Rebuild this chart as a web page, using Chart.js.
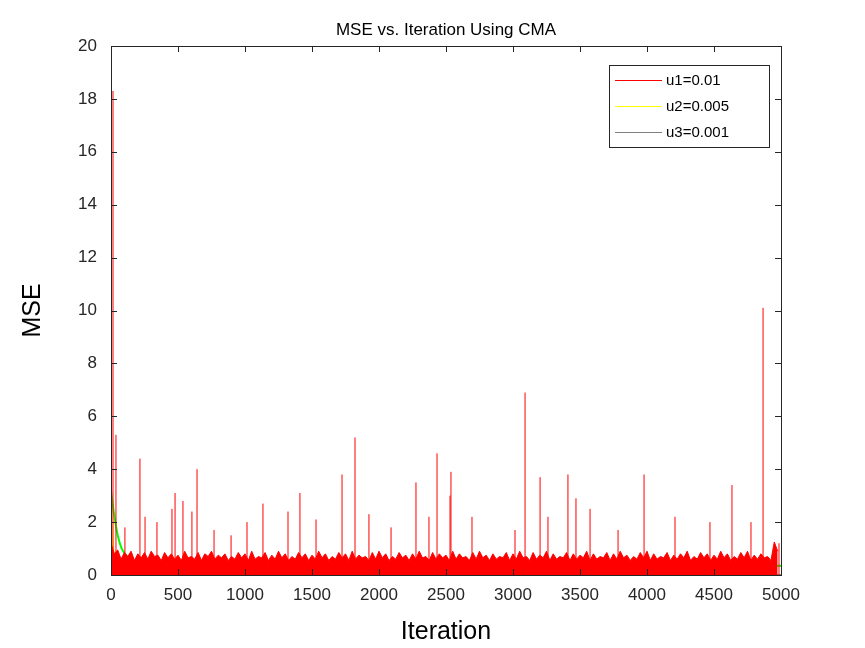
<!DOCTYPE html>
<html><head><meta charset="utf-8">
<script src="https://cdn.jsdelivr.net/npm/chart.js@4"></script>
<style>html,body{margin:0;padding:0;background:#fff}#c{display:block}</style>
</head><body>
<div style="width:865px;height:648px"><canvas id="c" width="865" height="648"></canvas></div>
<script>
const chartTitle = "MSE vs. Iteration Using CMA";
const xLabel = "Iteration";
const yLabel = "MSE";
const seriesNames = ["u1=0.01", "u2=0.005", "u3=0.001"];
const xTicks = [0,500,1000,1500,2000,2500,3000,3500,4000,4500,5000];
const yTicks = [0,2,4,6,8,10,12,14,16,18,20];

// u1 band top (dense noise envelope), one value every 25 iterations (0..4975)
const u1BaseStep = 25;
const u1Base = [
 1.2,0.8,0.95,0.6,0.85,0.7,0.9,0.55,0.8,0.65, 0.85,0.6,0.9,0.7,0.75,0.55,0.85,0.65,0.8,0.6,
 0.75,0.55,0.9,0.65,0.7,0.6,0.85,0.55,0.8,0.7, 0.9,0.6,0.75,0.65,0.8,0.55,0.7,0.6,0.85,0.65,
 0.8,0.55,0.9,0.6,0.7,0.65,0.85,0.55,0.75,0.6, 0.9,0.65,0.8,0.55,0.7,0.6,0.85,0.65,0.8,0.55,
 0.75,0.6,0.9,0.65,0.8,0.55,0.7,0.6,0.85,0.65, 0.8,0.55,0.9,0.6,0.75,0.65,0.7,0.55,0.85,0.6,
 0.9,0.65,0.8,0.55,0.7,0.6,0.85,0.65,0.75,0.55, 0.8,0.6,0.9,0.65,0.7,0.55,0.85,0.6,0.8,0.65,
 0.75,0.55,0.9,0.6,0.8,0.65,0.7,0.55,0.85,0.6, 0.9,0.65,0.75,0.55,0.8,0.6,0.7,0.65,0.85,0.55,
 0.8,0.6,0.9,0.65,0.7,0.55,0.85,0.6,0.75,0.65, 0.9,0.55,0.8,0.6,0.7,0.65,0.85,0.55,0.8,0.6,
 0.75,0.65,0.9,0.55,0.8,0.6,0.7,0.65,0.85,0.55, 0.8,0.6,0.9,0.65,0.75,0.55,0.7,0.6,0.85,0.65,
 0.9,0.55,0.8,0.6,0.7,0.65,0.85,0.55,0.75,0.6, 0.8,0.65,0.9,0.55,0.7,0.6,0.85,0.65,0.8,0.55,
 0.75,0.6,0.9,0.65,0.8,0.55,0.7,0.6,0.85,0.65, 0.9,0.55,0.75,0.6,0.8,0.65,0.7,0.55,1.25,0.9
];
// u1 spikes
const u1SpikeIter = [15,37,104,216,254,343,455,478,537,604,642,769,896,1015,1134,1321,1410,1530,1724,1821,1925,2090,2276,2373,2433,2530,2537,2694,3015,3090,3202,3261,3410,3470,3575,3784,3978,4209,4470,4634,4776,4866,4985];
const u1SpikeVal  = [18.3,5.3,1.8,4.4,2.2,2.0,2.5,3.1,2.8,2.4,4.0,1.7,1.5,2.0,2.7,2.4,3.1,2.1,3.8,5.2,2.3,1.8,3.5,2.2,4.6,3.0,3.9,2.2,1.7,6.9,3.7,2.2,3.8,2.9,2.5,1.7,3.8,2.2,2.0,3.4,2.0,10.1,1.2];

// u2 (yellow) and green curve, sampled
const u2Iter = [0,10,20,40,60,80,100,150,200,5000];
const u2Val  = [3.0,1.5,0.9,0.55,0.42,0.37,0.35,0.34,0.34,0.34];
const gIter  = [0,20,50,80,120,160,200,250,300,400,5000];
const gVal   = [3.2,2.4,1.5,1.0,0.7,0.52,0.44,0.39,0.36,0.35,0.35];
// u3 (gray)
const u3Iter = [0,5000];
const u3Val  = [0.02,0.02];

const u1Band = u1Base.map((v,i)=>({x:i*u1BaseStep,y:v}));
const u1Spikes = [];
u1SpikeIter.forEach((x,i)=>{u1Spikes.push({x:x,y:0},{x:x,y:u1SpikeVal[i]},{x:x,y:null});});
const zip=(xs,ys)=>xs.map((x,i)=>({x:x,y:ys[i]}));

const FONT = "'Liberation Sans', Arial, sans-serif";
const L=111,R=781,T=46,B=575;

const deco = {
  id:'deco',
  afterDraw(ch){
    const c=ch.ctx, a=ch.chartArea, xs=ch.scales.x, ys=ch.scales.y;
    c.save();
    c.strokeStyle='#262626'; c.lineWidth=1;
    c.strokeRect(a.left+0.5,a.top+0.5,a.right-a.left,a.bottom-a.top);
    xTicks.forEach(t=>{const p=Math.round(xs.getPixelForValue(t))+0.5;
      c.beginPath();c.moveTo(p,a.bottom);c.lineTo(p,a.bottom-6);c.moveTo(p,a.top);c.lineTo(p,a.top+6);c.stroke();});
    yTicks.forEach(t=>{const p=Math.round(ys.getPixelForValue(t))+0.5;
      c.beginPath();c.moveTo(a.left,p);c.lineTo(a.left+6,p);c.moveTo(a.right,p);c.lineTo(a.right-6,p);c.stroke();});
    c.fillStyle='#000';c.textAlign='center';c.textBaseline='middle';
    c.font='17px '+FONT; c.fillText(chartTitle,(a.left+a.right)/2,30);
    c.font='25px '+FONT; c.fillText(xLabel,(a.left+a.right)/2,632);
    c.save(); c.translate(33,(a.top+a.bottom)/2); c.rotate(-Math.PI/2); c.fillText(yLabel,0,0); c.restore();
    // legend
    const lx=609,ly=65,lw=160,lh=82;
    c.fillStyle='#fff';c.fillRect(lx,ly,lw,lh);
    c.strokeStyle='#262626';c.strokeRect(lx+0.5,ly+0.5,lw,lh);
    const cols=['#ff0000','#ffff00','#808080'];
    c.font='15px '+FONT;c.textAlign='left';
    seriesNames.forEach((n,i)=>{const y=ly+15+i*26;
      c.strokeStyle=cols[i];c.lineWidth=1;c.beginPath();c.moveTo(lx+6,y+0.5);c.lineTo(lx+53,y+0.5);c.stroke();
      c.fillStyle='#000';c.fillText(n,lx+57,y+1);});
    c.restore();
  }
};

new Chart(document.getElementById('c'),{
  type:'line',
  data:{datasets:[
    {label:seriesNames[0],data:u1Band,borderColor:'#ff0000',backgroundColor:'#ff0000',fill:'origin',borderWidth:1,pointRadius:0,tension:0},
    {label:'spikes',data:u1Spikes,borderColor:'#ff0000',borderWidth:1,pointRadius:0,spanGaps:false},
    {label:seriesNames[2],data:zip(u3Iter,u3Val),borderColor:'#808080',borderWidth:1,pointRadius:0},
    {label:'g',data:zip(gIter,gVal),borderColor:'#00ff00',borderWidth:2,pointRadius:0,tension:0.3},
    {label:seriesNames[1],data:zip(u2Iter,u2Val),borderColor:'#ffff00',borderWidth:1.5,pointRadius:0,tension:0.3}
  ]},
  options:{
    responsive:false,animation:false,
    layout:{padding:{left:0,right:865-R,top:T,bottom:0}},
    plugins:{legend:{display:false},title:{display:false},tooltip:{enabled:false}},
    scales:{
      x:{type:'linear',min:0,max:5000,grid:{display:false},border:{display:false},
         afterFit(s){s.height=73;},
         afterBuildTicks(s){s.ticks=xTicks.map(v=>({value:v}));},
         ticks:{color:'#262626',font:{family:FONT,size:17},padding:2,maxRotation:0,callback:v=>String(v)}},
      y:{min:0,max:20,grid:{display:false},border:{display:false},
         afterFit(s){s.width=L;},
         afterBuildTicks(s){s.ticks=yTicks.map(v=>({value:v}));},
         ticks:{color:'#262626',font:{family:FONT,size:17},padding:6,callback:v=>String(v)}}
    }
  },
  plugins:[deco]
});
</script>
</body></html>
